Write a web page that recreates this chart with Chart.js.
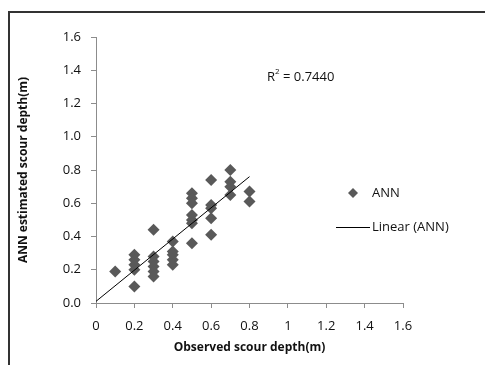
<!DOCTYPE html>
<html>
<head>
<meta charset="utf-8">
<script src="https://cdn.jsdelivr.net/npm/chart.js@4"></script>
<style>
html,body{margin:0;padding:0;background:#fff;}
#wrap{position:relative;width:485px;height:365px;}
</style>
</head>
<body>
<div id="wrap"><canvas id="c" width="485" height="365"></canvas></div>
<script>
const obsX = [0.1, 0.2,0.2,0.2,0.2,0.2, 0.3,0.3,0.3,0.3,0.3,0.3, 0.4,0.4,0.4,0.4,0.4,
  0.5,0.5,0.5,0.5,0.5,0.5,0.5, 0.6,0.6,0.6,0.6,0.6, 0.7,0.7,0.7,0.7, 0.8,0.8];
const estY = [0.19, 0.29,0.26,0.23,0.20,0.10, 0.44,0.28,0.25,0.22,0.19,0.16, 0.37,0.31,0.29,0.26,0.23,
  0.66,0.63,0.60,0.53,0.50,0.48,0.36, 0.74,0.59,0.57,0.51,0.41, 0.80,0.73,0.70,0.65, 0.67,0.61];
const trendX = [0, 0.8];
const trendY = [0.01, 0.76];
const xTickLabels = ["0","0.2","0.4","0.6","0.8","1","1.2","1.4","1.6"];
const yTickLabels = ["0.0","0.2","0.4","0.6","0.8","1.0","1.2","1.4","1.6"];
const r2Text = "0.7440";
const seriesName = "ANN";
const trendName = "Linear (ANN)";

const FONT = "'Open Sans', sans-serif";
const pointColor = "#595959";
const axisColor = "#8c8c8c";

const decor = {
  id: 'decor',
  beforeDraw(chart) {
    const ctx = chart.ctx;
    ctx.save();
    ctx.strokeStyle = '#333';
    ctx.lineWidth = 2;
    ctx.beginPath();
    ctx.moveTo(9, 365);
    ctx.lineTo(9, 12);
    ctx.lineTo(485, 12);
    ctx.stroke();
    ctx.restore();
  },
  afterDraw(chart) {
    const ctx = chart.ctx;
    ctx.save();
    ctx.fillStyle = '#111';
    ctx.textBaseline = 'middle';
    ctx.textAlign = 'left';
    ctx.font = "13px " + FONT;
    let x = 267, y = 77;
    ctx.fillText("R", x, y);
    x += ctx.measureText("R").width;
    ctx.font = "8px " + FONT;
    ctx.fillText("2", x, y - 5);
    x += ctx.measureText("2").width;
    ctx.font = "13px " + FONT;
    ctx.fillText(" = " + r2Text, x, y);
    const ds = chart.data.datasets;
    ctx.fillStyle = pointColor;
    ctx.beginPath();
    const mx = 353, my = 193, r = 5;
    ctx.moveTo(mx, my - r); ctx.lineTo(mx + r, my); ctx.lineTo(mx, my + r); ctx.lineTo(mx - r, my); ctx.closePath();
    ctx.fill();
    ctx.fillStyle = '#111';
    ctx.fillText(ds[0].label, 372, 193);
    ctx.strokeStyle = '#000';
    ctx.lineWidth = 1;
    ctx.beginPath();
    ctx.moveTo(336, 227.5); ctx.lineTo(370, 227.5); ctx.stroke();
    ctx.fillText(ds[1].label, 372, 227);
    ctx.restore();
  }
};

new Chart(document.getElementById('c'), {
  type: 'scatter',
  data: {
    datasets: [
      {
        label: seriesName,
        data: obsX.map((v, i) => ({x: v, y: estY[i]})),
        pointStyle: 'rectRot',
        radius: 6,
        backgroundColor: pointColor,
        borderColor: pointColor,
        borderWidth: 0,
        order: 2
      },
      {
        label: trendName,
        type: 'line',
        data: trendX.map((v, i) => ({x: v, y: trendY[i]})),
        borderColor: '#000',
        borderWidth: 1,
        pointRadius: 0,
        fill: false,
        order: 1
      }
    ]
  },
  options: {
    responsive: false,
    animation: false,
    layout: {padding: {left: 0, right: 82, top: 37, bottom: 0}},
    plugins: {legend: {display: false}, tooltip: {enabled: false}},
    scales: {
      x: {
        type: 'linear', min: 0, max: 1.6,
        afterBuildTicks(s) { s.ticks = xTickLabels.map((t, i) => ({value: i * 0.2})); },
        afterFit(s) { s.height = 62; },
        ticks: {
          callback: (v, i) => xTickLabels[i],
          font: {family: FONT, size: 13}, color: '#111', padding: 10, maxRotation: 0, autoSkip: false
        },
        grid: {drawOnChartArea: false, color: axisColor, tickLength: 5},
        border: {color: axisColor, width: 1},
        title: {display: true, text: 'Observed scour depth(m)', font: {family: FONT, size: 12, weight: 'bold'}, color: '#111', padding: {top: 0, bottom: 10}}
      },
      y: {
        type: 'linear', min: 0, max: 1.6,
        afterBuildTicks(s) { s.ticks = yTickLabels.map((t, i) => ({value: i * 0.2})); },
        afterFit(s) { s.width = 96; },
        ticks: {
          callback: (v, i) => yTickLabels[i],
          font: {family: FONT, size: 13}, color: '#111', padding: 10, autoSkip: false
        },
        grid: {drawOnChartArea: false, color: axisColor, tickLength: 5},
        border: {color: axisColor, width: 1},
        title: {display: true, text: 'ANN estimated scour depth(m)', font: {family: FONT, size: 12, weight: 'bold'}, color: '#111', padding: {top: 16, bottom: 0}}
      }
    }
  },
  plugins: [decor]
});
</script>
</body>
</html>
